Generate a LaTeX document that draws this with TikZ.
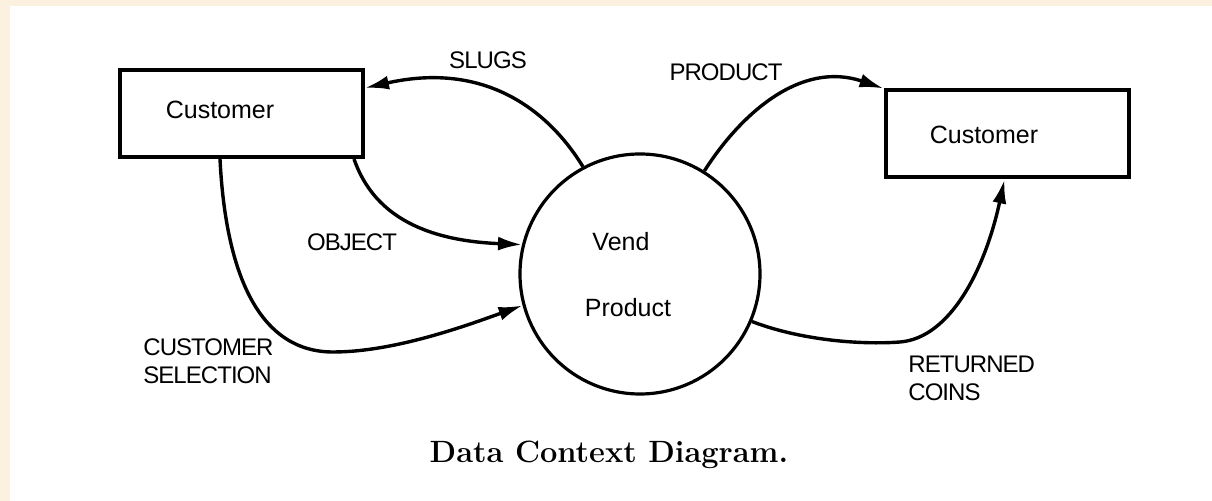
\documentclass[tikz,border=0pt]{standalone}
\usepackage{fontspec}
\newfontfamily\labfont[LetterSpace=-4]{Liberation Sans}
\newfontfamily\boxfont{Liberation Sans}
\usetikzlibrary{arrows.meta,calc}
\definecolor{beige}{RGB}{252,241,222}
\begin{document}
\begin{tikzpicture}[x=0.5pt,y=-0.5pt,
  entbox/.style={draw, line width=2pt, minimum width=121.5pt, minimum height=43.5pt, inner sep=0pt},
  procnode/.style={draw, circle, line width=1.6pt, minimum size=120pt, inner sep=0pt},
  flowline/.style={line width=1.7pt, -{Latex[length=12pt,width=7pt]}},
  flowlab/.style={font=\labfont\fontsize{12}{14}\selectfont, inner sep=0pt, align=left},
  nametxt/.style={font=\boxfont\fontsize{12.5}{15}\selectfont, inner sep=0pt},
  captxt/.style={font=\bfseries\fontsize{15.4}{17}\selectfont, inner sep=0pt}]
\useasboundingbox (0,0) rectangle (1212,501);
\fill[beige] (0,0) rectangle (1212,501);
\fill[white] (10,6) rectangle (1212,501);

\node[entbox] (L) at (241.5,113.5) {};
\node[entbox] (R) at (1007,134) {};
\node[procnode] (C) at (640,274) {};

\node[nametxt] (tL) at (220,110) {Customer};
\node[nametxt] (tR) at (984,135) {Customer};
\node[nametxt] (tV) at (621,242) {Vend};
\node[nametxt] (tPr) at (628,308) {Product};

\draw[flowline] (C.118) .. controls (545,105) and (480,62) .. ($(L.north east)+(0,20)$);
\draw[flowline] (C.58) .. controls (740,115) and (800,60) .. (R.north west);
\draw[flowline] ($(L.south east)+(-11,0)$) .. controls (370,205) and (410,240) .. (C.166);
\draw[flowline] ($(L.south west)+(102,0)$) .. controls (226,280) and (262,352) .. (333,352)
   .. controls (395,352) and (468,325) .. (C.195);
\draw[flowline] (C.-23) .. controls (800,340) and (860,345) .. (900,342)
   .. controls (950,338) and (985,270) .. ($(R.south west)+(121,0)$);

\node[flowlab] (tS) at (488,60) {SLUGS};
\node[flowlab] (tP) at (726,72) {PRODUCT};
\node[flowlab] (tO) at (352,242) {OBJECT};
\node[flowlab, anchor=west] (tCS) at (143,361) {CUSTOMER\\SELECTION};
\node[flowlab, anchor=west] (tRC) at (908,378.5) {RETURNED\\COINS};

\node[captxt] (tCap) at (609,455) {Data Context Diagram.};
\end{tikzpicture}
\end{document}
